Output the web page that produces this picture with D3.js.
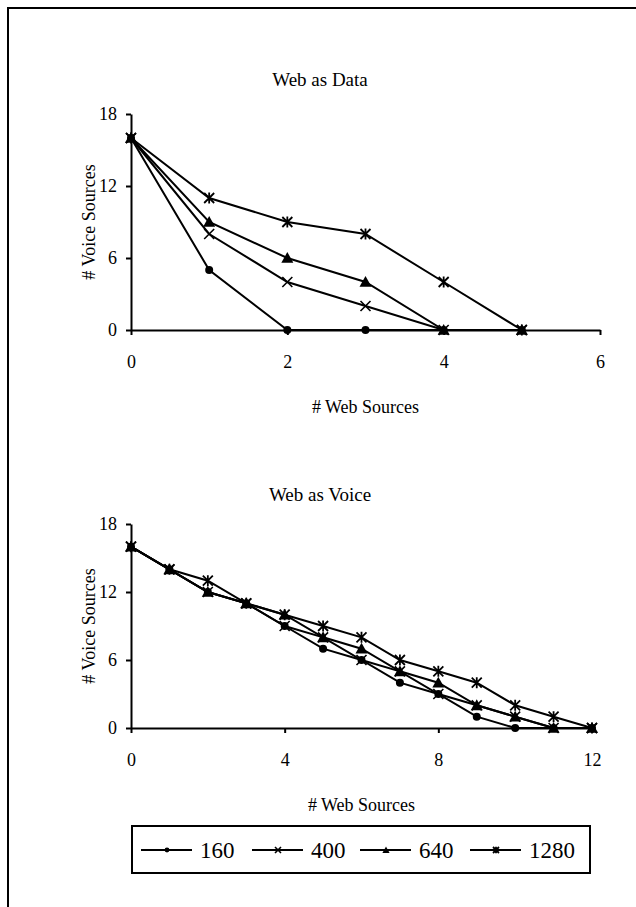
<!DOCTYPE html>
<html>
<head>
<meta charset="utf-8">
<script src="https://cdn.jsdelivr.net/npm/d3@7"></script>
<style>
  body { margin: 0; background: #fff; }
  svg, svg text { font-family: "Liberation Serif", "Times New Roman", Times, "DejaVu Serif", serif; }
</style>
</head>
<body>
<div class="js-vis"></div>
<script>
// series names (legend)
const seriesNames = ['160', '400', '640', '1280']
const seriesShapes = ['circle', 'x', 'triangle', 'star']

// Web as Data
const dataX = [0, 1, 2, 3, 4, 5]
const data160 = [16, 5, 0, 0, 0, 0]
const data400 = [16, 8, 4, 2, 0, 0]
const data640 = [16, 9, 6, 4, 0, 0]
const data1280 = [16, 11, 9, 8, 4, 0]
const dataXTicks = [0, 2, 4, 6]

// Web as Voice
const voiceX = [0, 1, 2, 3, 4, 5, 6, 7, 8, 9, 10, 11, 12]
const voice160 = [16, 14, 12, 11, 9, 7, 6, 4, 3, 1, 0, 0, 0]
const voice400 = [16, 14, 12, 11, 9, 8, 6, 5, 3, 2, 1, 0, 0]
const voice640 = [16, 14, 12, 11, 10, 8, 7, 5, 4, 2, 1, 0, 0]
const voice1280 = [16, 14, 13, 11, 10, 9, 8, 6, 5, 4, 2, 1, 0]
const voiceXTicks = [0, 4, 8, 12]

const yTicks = [0, 6, 12, 18]

const FONT = '"Liberation Serif", "Times New Roman", Times, "DejaVu Serif", serif'

const svg = d3.select(".js-vis").append("svg")
    .attr("width", 636)
    .attr("height", 907)

// outer frame (runs off the right and bottom edges)
svg.append("rect")
    .attr("x", 8).attr("y", 8)
    .attr("width", 700).attr("height", 1000)
    .attr("fill", "none")
    .attr("stroke", "#000")
    .attr("stroke-width", 2)

function marker(g, shape, cx, cy, s) {
  if (shape === 'circle') {
    g.append("circle").attr("cx", cx).attr("cy", cy).attr("r", s * 0.8).attr("fill", "#000")
  } else if (shape === 'x') {
    g.append("path")
      .attr("d", `M${cx - s},${cy - s}L${cx + s},${cy + s}M${cx - s},${cy + s}L${cx + s},${cy - s}`)
      .attr("stroke", "#000").attr("stroke-width", 1.6)
  } else if (shape === 'triangle') {
    const h = s * 1.2
    g.append("path")
      .attr("d", `M${cx},${cy - h}L${cx + h},${cy + h * 0.8}L${cx - h},${cy + h * 0.8}Z`)
      .attr("fill", "#000")
  } else {
    g.append("path")
      .attr("d", `M${cx - s},${cy - s}L${cx + s},${cy + s}M${cx - s},${cy + s}L${cx + s},${cy - s}M${cx},${cy - s * 1.1}L${cx},${cy + s * 1.1}`)
      .attr("stroke", "#000").attr("stroke-width", 1.8)
  }
}

function chart(opts) {
  const x = d3.scaleLinear().domain(opts.xDomain).range(opts.xRange)
  const y = d3.scaleLinear().domain([0, 18]).range(opts.yRange)
  const g = svg.append("g")

  g.append("text")
      .attr("x", 320).attr("y", opts.titleY)
      .attr("text-anchor", "middle")
      .attr("font-family", FONT)
      .style("font-size", "19px")
      .text(opts.title)

  const yax = d3.axisLeft(y).tickValues(yTicks).tickFormat(d3.format("d"))
      .tickSize(5).tickSizeOuter(0).tickPadding(9)
  const xax = d3.axisBottom(x).tickValues(opts.xTicks).tickFormat(d3.format("d"))
      .tickSize(5).tickSizeOuter(0).tickPadding(20)

  const gy = g.append("g")
      .attr("transform", "translate(" + opts.xRange[0] + ",0)")
      .call(yax)
  const gx = g.append("g")
      .attr("transform", "translate(0," + opts.yRange[0] + ")")
      .call(xax)

  ;[gx, gy].forEach(a => {
    a.attr("font-family", FONT).attr("font-size", 18)
    a.selectAll("path, line").attr("stroke", "#000").attr("stroke-width", 2)
    a.selectAll("text").attr("fill", "#000")
  })

  g.append("text")
      .attr("x", (opts.xRange[0] + opts.xRange[1]) / 2)
      .attr("y", opts.yRange[0] + 83)
      .attr("text-anchor", "middle")
      .attr("font-family", FONT)
      .style("font-size", "18px")
      .text("# Web Sources")

  g.append("text")
      .attr("transform", "translate(95," + (opts.yRange[0] + opts.yRange[1]) / 2 + ") rotate(-90)")
      .attr("text-anchor", "middle")
      .attr("font-family", FONT)
      .style("font-size", "18px")
      .text("# Voice Sources")

  const line = d3.line()
      .x((d, i) => x(opts.xs[i]))
      .y(d => y(d))

  opts.series.forEach(s => {
    g.append("path")
      .datum(s)
      .attr("d", line)
      .attr("fill", "none")
      .attr("stroke", "#000")
      .attr("stroke-width", 2)
  })

  opts.series.forEach((s, k) => {
    s.forEach((v, i) => marker(g, seriesShapes[k], x(opts.xs[i]), y(v), 5))
  })
}

chart({
  title: "Web as Data", titleY: 86,
  xDomain: [0, 6], xRange: [131, 600], yRange: [330, 114],
  xTicks: dataXTicks, xs: dataX,
  series: [data160, data400, data640, data1280]
})

chart({
  title: "Web as Voice", titleY: 501,
  xDomain: [0, 12], xRange: [131, 592], yRange: [728, 524],
  xTicks: voiceXTicks, xs: voiceX,
  series: [voice160, voice400, voice640, voice1280]
})

// legend
const legend = svg.append("g")
legend.append("rect")
    .attr("x", 132).attr("y", 826)
    .attr("width", 458).attr("height", 47)
    .attr("fill", "#fff")
    .attr("stroke", "#000")
    .attr("stroke-width", 2)

const legendStep = [0, 111, 219, 329]
seriesNames.forEach((name, k) => {
  const lx = 141 + legendStep[k]
  legend.append("line")
    .attr("x1", lx).attr("x2", lx + 51)
    .attr("y1", 850).attr("y2", 850)
    .attr("stroke", "#000").attr("stroke-width", 2)
  marker(legend, seriesShapes[k], lx + 26, 850, 3)
  legend.append("text")
    .attr("x", lx + 59).attr("y", 858)
    .attr("font-family", FONT)
    .style("font-size", "23px")
    .text(name)
})
</script>
</body>
</html>
